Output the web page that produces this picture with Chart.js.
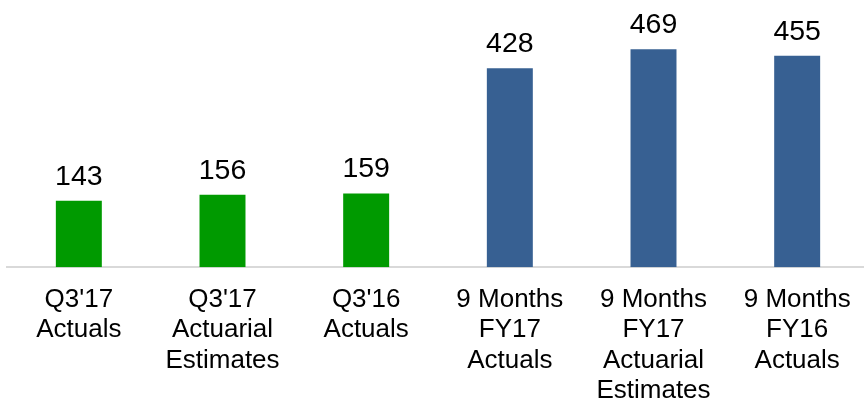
<!DOCTYPE html>
<html>
<head>
<meta charset="utf-8">
<script src="https://cdn.jsdelivr.net/npm/chart.js@4/dist/chart.umd.min.js"></script>
<style>
  html, body { margin: 0; padding: 0; background: #fff; overflow: hidden; }
  #wrap { width: 864px; height: 399px; overflow: hidden; }
</style>
</head>
<body>
<div id="wrap"><canvas id="claimsChart" width="872" height="423"></canvas></div>
<script>
const categories = [
  ["Q3'17", 'Actuals'],
  ["Q3'17", 'Actuarial', 'Estimates'],
  ["Q3'16", 'Actuals'],
  ['9 Months', 'FY17', 'Actuals'],
  ['9 Months', 'FY17', 'Actuarial', 'Estimates'],
  ['9 Months', 'FY16', 'Actuals']
];
const values = [143, 156, 159, 428, 469, 455];
const barColors = ['#009a00', '#009a00', '#009a00', '#376092', '#376092', '#376092'];

// draws the number above each bar
const valueLabels = {
  id: 'valueLabels',
  afterDatasetsDraw(chart) {
    const ctx = chart.ctx;
    ctx.save();
    ctx.font = '28.5px "Liberation Sans", Arial, sans-serif';
    ctx.fillStyle = '#000';
    ctx.textAlign = 'center';
    ctx.textBaseline = 'alphabetic';
    chart.getDatasetMeta(0).data.forEach(function(bar, i) {
      ctx.fillText(values[i], bar.x, bar.y - 16);
    });
    ctx.restore();
  }
};

const ctx = document.getElementById('claimsChart').getContext('2d');
new Chart(ctx, {
  type: 'bar',
  data: {
    labels: categories,
    datasets: [{
      data: values,
      backgroundColor: barColors,
      borderWidth: 0,
      barPercentage: 0.32,
      categoryPercentage: 1
    }]
  },
  options: {
    responsive: false,
    animation: false,
    layout: { padding: { left: 7, right: 3, top: 0, bottom: 0 } },
    plugins: {
      legend: { display: false },
      tooltip: { enabled: false }
    },
    scales: {
      x: {
        grid: { display: false, drawTicks: false },
        border: { display: true, color: '#d9d9d9', width: 2 },
        ticks: {
          color: '#000',
          padding: 17,
          maxRotation: 0,
          autoSkip: false,
          font: { family: '"Liberation Sans", Arial, sans-serif', size: 26, lineHeight: 1.17 }
        }
      },
      y: {
        display: false,
        min: 0,
        max: 575
      }
    }
  },
  plugins: [valueLabels]
});
</script>
</body>
</html>
